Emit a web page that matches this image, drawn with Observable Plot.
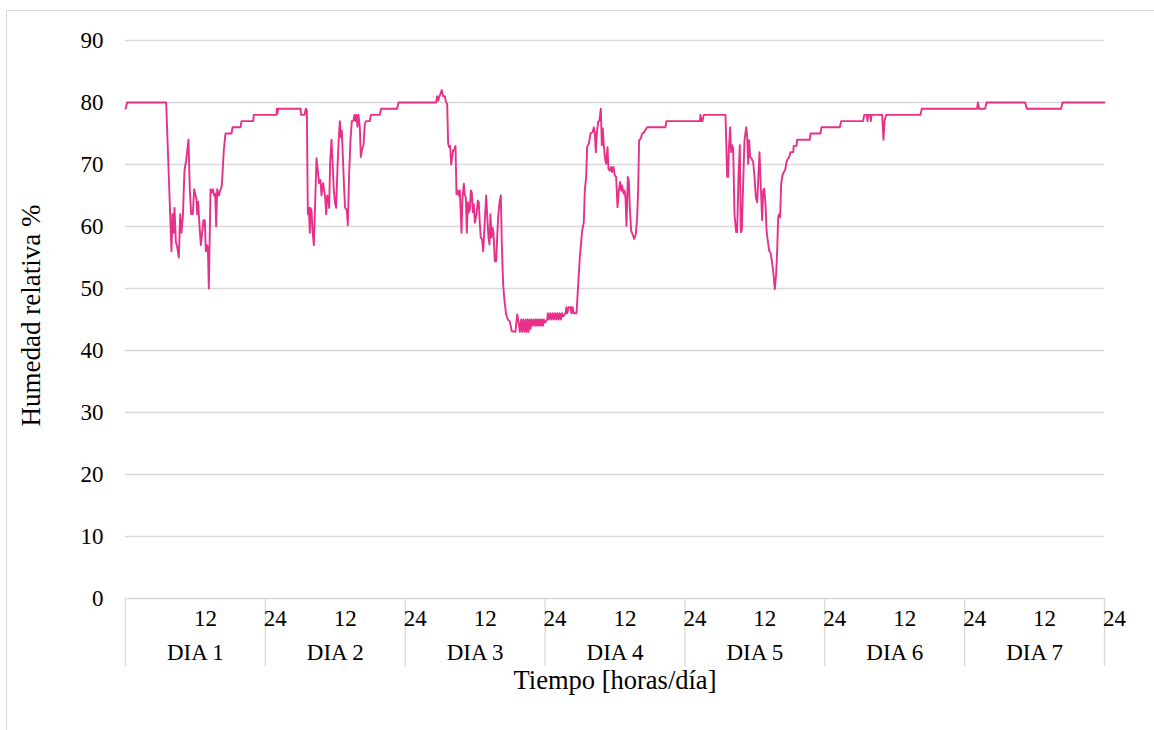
<!DOCTYPE html>
<html>
<head>
<meta charset="utf-8">
<script src="https://cdn.jsdelivr.net/npm/d3@7"></script>
<script src="https://cdn.jsdelivr.net/npm/@observablehq/plot@0.6"></script>
<style>
  html, body { margin: 0; padding: 0; background: #fff; }
  #frame { position: absolute; left: 6px; top: 10px; width: 1200px; height: 760px; border: 1px solid #d9d9d9; box-sizing: border-box; }
  #chart { position: absolute; left: 0; top: 0; }
</style>
</head>
<body>
<div id="frame"></div>
<div id="chart"></div>
<script>
// Time in hours since start of DIA 1
const hours = [
  0, 0.3, 6.98, 7.89, 8.07, 8.24, 8.41, 8.64, 8.87, 9.15, 9.38, 9.61, 9.84, 10.12, 10.41, 10.81, 11.04, 11.27, 11.55, 11.78,
  12.01, 12.18, 12.30, 12.47, 12.64, 12.93, 13.16, 13.38, 13.61, 13.78, 13.96, 14.13, 14.30, 14.59, 14.81, 14.99, 15.21, 15.39,
  15.56, 15.73, 16.02, 16.31, 16.53, 16.87, 17.16, 18.19, 18.36, 19.73, 19.91, 21.91, 22.02,
  25.91, 25.97, 26.08, 26.20, 30.03, 30.14, 30.72, 30.94, 31.12, 31.29, 31.46, 31.63, 31.75, 31.92, 32.09, 32.32, 32.78, 33.00,
  33.23, 33.46, 33.63, 33.81, 33.92, 34.09, 34.26, 34.44, 34.61, 34.78, 34.95, 35.12, 35.35, 35.52, 35.75, 35.98, 36.15, 36.38,
  36.61, 36.78, 36.95, 37.12, 37.29, 37.52, 37.69, 37.98, 38.15, 38.38, 38.61, 38.84, 39.13, 39.30, 39.47, 39.64, 39.81, 39.98,
  40.21, 40.38, 40.61, 40.84, 41.07, 41.30, 41.93, 42.10, 43.64, 43.87, 46.62, 46.85,
  53.31, 53.48, 53.65, 53.88, 54.28, 54.51, 54.80, 55.03, 55.20, 55.37, 55.54, 55.71, 55.89, 56.06, 56.23, 56.46, 56.63, 56.80,
  57.03, 57.20, 57.37, 57.66, 57.83, 58.06, 58.23, 58.40, 58.57, 58.75, 58.92, 59.09, 59.26, 59.43, 59.60, 59.77, 59.95, 60.23,
  60.46, 60.63, 60.80, 60.97, 61.20, 61.38, 61.60, 61.89, 62.12, 62.29, 62.46, 62.63, 62.81, 62.98, 63.15, 63.38, 63.61, 63.78,
  63.95, 64.18, 64.41, 64.58, 64.81, 65.04, 65.32, 65.61, 65.95, 66.29, 66.92, 67.21, 67.44, 67.67, 67.90, 68.07, 68.24, 68.47,
  68.64, 68.81, 68.98, 69.16, 69.33, 69.50, 69.67, 69.84, 70.07, 70.25, 70.42, 70.60, 70.77, 70.95, 71.12, 71.29, 71.46, 71.63,
  71.80, 72.00, 72.36, 72.47, 72.70, 72.90, 73.10, 73.30, 73.50, 73.70, 73.90, 74.10, 74.30, 74.50, 74.70, 74.90, 75.10, 75.50,
  75.67, 75.79, 76.07, 76.36, 76.53, 76.71, 76.93, 77.39, 77.62, 77.96, 78.36, 78.65, 78.82, 79.05, 79.22, 79.51, 79.80, 79.97,
  80.19, 80.37, 80.54, 80.71, 80.88, 81.11, 81.34, 81.57, 81.74, 81.91, 82.08, 82.25, 82.48, 82.71, 82.88, 83.11, 83.34, 83.51,
  83.74, 83.97, 84.20, 84.43, 84.66, 84.89, 85.06, 85.23, 85.46, 85.63, 85.80, 85.97, 86.20, 86.37, 86.54, 86.77, 87.00, 87.29,
  87.58, 87.80, 87.97, 88.14, 88.43, 88.66, 88.89, 89.52, 92.66, 92.83,
  98.56, 98.67, 98.84, 99.01, 99.24, 102.96, 103.25, 103.42, 103.53, 103.76, 103.93, 104.10, 104.28, 104.50, 104.79, 104.96,
  105.19, 105.42, 105.59, 105.76, 105.99, 106.22, 106.51, 106.68, 106.85, 107.02, 107.19, 107.42, 107.71, 107.94, 108.17, 108.40,
  108.57, 108.80, 109.02, 109.25, 109.43, 109.60, 109.82, 110.00, 110.22, 110.45, 110.68, 110.91, 111.14, 111.42, 111.65, 111.83,
  112.00, 112.17, 112.34, 112.51, 112.74, 112.97, 113.20, 113.43, 113.66, 113.89, 114.11, 114.57, 114.68, 115.14, 115.26, 117.43,
  117.55, 119.26, 119.43, 122.58, 122.81, 126.58, 126.76, 127.21, 127.33, 127.44, 127.79, 127.90, 128.02, 129.85, 130.07, 130.25,
  130.53, 136.42, 136.65, 146.15, 146.26, 146.49, 147.52, 147.75, 154.39, 154.67, 160.56, 160.79, 168
];
// Relative humidity (%)
const humedad = [
  79, 80, 80, 56, 62, 59, 63, 57.5, 56.7, 55, 62, 59, 61.5, 69, 70.7, 74, 65.8, 62, 62, 66,
  65, 64.5, 62, 64, 61, 57, 59, 61, 61, 56, 57, 56.7, 50, 66, 65.5, 66, 65, 65.3,
  60, 66, 65, 66, 66.6, 72.3, 75, 75, 76, 76, 77, 77, 78,
  78, 79, 78.2, 79, 79, 78, 78, 79, 78.7, 62, 63, 59, 63, 62.6, 59.4, 57, 71, 69,
  67, 67.5, 65, 66.6, 67, 65.8, 64.7, 62, 65, 64.7, 63, 70.4, 74, 70.7, 65.8, 63.7, 63, 69.6,
  74.4, 77, 74.4, 75.5, 71.5, 66, 63, 62.7, 60.2, 68.5, 74, 77, 77.1, 78, 77, 78, 76.1, 78,
  76, 71.2, 72.5, 73.1, 76.6, 77, 77, 78, 78, 79, 79, 80,
  80, 81, 80.3, 81, 82, 81, 81, 80, 79.8, 73.4, 72.8, 73, 70, 71.2, 72.3, 72.5, 73, 65.2,
  65.8, 65, 65.8, 59, 64.7, 66.9, 65, 64.7, 59, 63.9, 62.3, 62.8, 65.8, 65.5, 62.3, 63.6, 60.6, 62,
  64.2, 63.9, 60.4, 58.2, 57.9, 56, 59.8, 65, 60.9, 58.2, 57.1, 62, 58.2, 59.8, 59, 54.4, 54.4, 58.2,
  61.5, 63.9, 65, 57, 50.6, 48, 45.8, 45, 44.7, 43.1, 43, 45.8, 44.7, 43, 45, 43, 45, 43,
  45, 43, 45, 43, 45, 43.5, 45, 44, 45, 44, 45, 44, 45, 44, 45, 44, 45, 44,
  45, 44.5, 45, 46, 45, 46, 45, 46, 45, 46, 45, 46, 45, 46, 45, 46, 45.5, 46,
  47, 46, 47, 47, 46, 47, 46, 46, 49.6, 55, 59.3, 60.7, 65.8, 68, 72.8, 73.4, 75, 75.1,
  75.3, 76, 75, 72, 75, 76.9, 77.1, 79, 73.1, 75.8, 73.1, 71.2, 70.1, 72.8, 69.3, 69, 69.6, 68.8,
  69.6, 68.2, 68, 63.1, 65.8, 67.2, 65.8, 66.6, 65.3, 65.8, 64.7, 60.1, 68, 67.4, 63.1, 59.3, 58.8, 58,
  58.8, 61.5, 65.8, 73.9, 74.2, 75, 75.1, 76, 76, 77,
  77, 78, 77, 77, 78, 78, 68, 68, 72.3, 76, 72, 73.1, 72.6, 62, 59.1, 59.1,
  68, 73.1, 59.1, 59.4, 66.9, 73.9, 76, 74.7, 70.1, 73.9, 71.2, 71, 70.4, 68, 64.7, 63.9,
  67.4, 72, 66.4, 61, 65.8, 66.1, 63.7, 59.4, 57.7, 56.1, 55.8, 54.5, 52.9, 49.9, 52.3, 56.1,
  61.5, 62, 61.5, 66.9, 68.2, 68.8, 69.1, 70.4, 70.9, 71.2, 72, 72, 73, 73, 74, 74,
  75, 75, 76, 76, 77, 77, 78, 78, 77, 78, 78, 77, 78, 78, 74, 77,
  78, 78, 79, 79, 80, 79, 79, 80, 80, 79, 79, 80, 80
];

const dayLabels = ["DIA 1", "DIA 2", "DIA 3", "DIA 4", "DIA 5", "DIA 6", "DIA 7"];
const dayBoundaries = [0, 24, 48, 72, 96, 120, 144, 168];
const hourTicks = [12, 24, 36, 48, 60, 72, 84, 96, 108, 120, 132, 144, 156, 168];
const hourTickLabels = ["12", "24", "12", "24", "12", "24", "12", "24", "12", "24", "12", "24", "12", "24"];
const yTicks = [0, 10, 20, 30, 40, 50, 60, 70, 80, 90];
const xTitle = "Tiempo [horas/día]";
const yTitle = "Humedad relativa %";

const series = hours.map((h, i) => ({ h, rh: humedad[i] }));
const hourLabelData = hourTicks.map((h, i) => ({ h, t: hourTickLabels[i] }));
const dayLabelData = dayLabels.map((d, i) => ({ d, m: (dayBoundaries[i] + dayBoundaries[i + 1]) / 2 }));

const font = "'Liberation Serif', 'Times New Roman', 'DejaVu Serif', serif";

const chart = Plot.plot({
  width: 1154,
  height: 730,
  marginLeft: 125,
  marginRight: 50,
  marginTop: 40,
  marginBottom: 132,
  x: { domain: [0, 168], axis: null },
  y: { domain: [0, 90], axis: null },
  style: { fontFamily: font, background: "transparent", color: "#000" },
  marks: [
    Plot.gridY(yTicks, { stroke: "#d9d9d9", strokeOpacity: 1, strokeWidth: 1.3 }),
    Plot.axisY({ ticks: yTicks, tickSize: 0, tickPadding: 22, fontSize: 23, fill: "#000", label: null }),
    Plot.ruleX(dayBoundaries, { y1: 0, y2: -11, stroke: "#d9d9d9", strokeWidth: 1.3 }),
    Plot.text(hourLabelData, { x: "h", y: -3.3, text: "t", textAnchor: "start", dx: -1.5, fontSize: 23, fill: "#000" }),
    Plot.text(dayLabelData, { x: "m", y: -8.8, text: "d", fontSize: 23, fill: "#000" }),
    Plot.text([xTitle], { frameAnchor: "bottom", dy: 90.5, fontSize: 26.5, fill: "#000" }),
    Plot.text([yTitle], { frameAnchor: "left", textAnchor: "middle", rotate: -90, dx: -94, dy: -4, fontSize: 27, fill: "#000" }),
    Plot.line(series, { x: "h", y: "rh", stroke: "#e6308a", strokeWidth: 1.9, strokeLinejoin: "round" })
  ]
});

document.getElementById("chart").appendChild(chart);
</script>
</body>
</html>
